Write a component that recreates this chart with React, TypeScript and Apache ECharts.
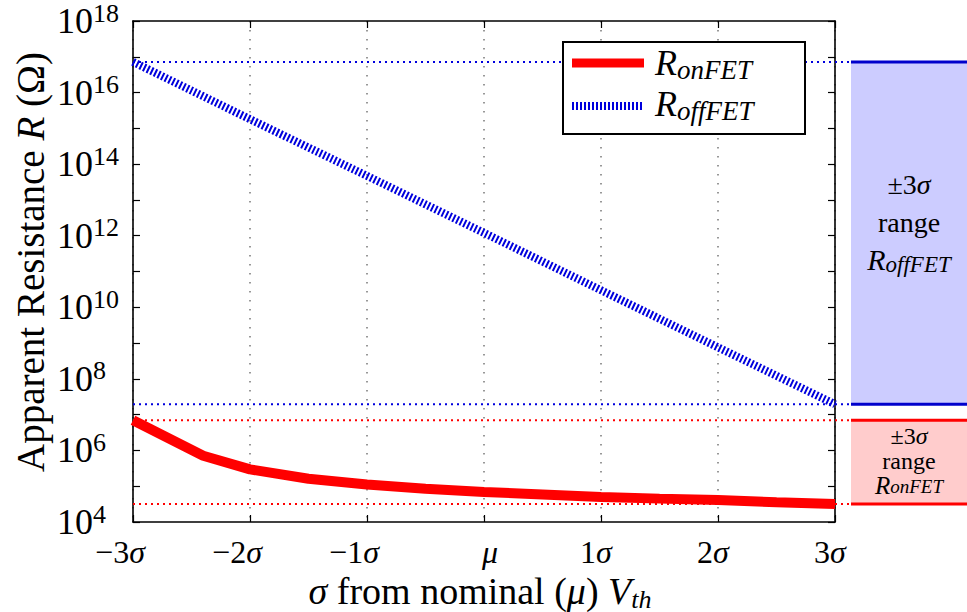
import React, { useEffect, useRef } from "react";
import * as echarts from "echarts";

// ---- data ----
const xTickValues = [-3, -2, -1, 0, 1, 2, 3];
const xTickNumbers = ["−3", "−2", "−1", "", "1", "2", "3"];
const yExpMin = 4;
const yExpMax = 18;

const offSigma = [-3, -2, -1, 0, 1, 2, 3];
const offValues = [7.2e16, 1.8e15, 4.7e13, 1.2e12, 3.0e10, 7.6e8, 1.95e7];

const onSigma = [-3, -2.4, -2, -1.5, -1, -0.5, 0, 0.5, 1, 1.5, 2, 2.5, 3];
const onValues = [7.0e6, 7.1e5, 2.95e5, 1.62e5, 1.12e5, 8.5e4, 6.9e4, 5.9e4, 5.0e4, 4.5e4, 4.1e4, 3.55e4, 3.2e4];

const FF = "'Liberation Serif', 'DejaVu Serif', serif";
const RED = "#ff0000";
const BLUE = "#0000dd";

export default function App() {
  const ref = useRef<HTMLDivElement>(null);
  useEffect(() => {
    if (!ref.current) return;
    const chart = echarts.init(ref.current, undefined, { renderer: "svg" });
    const axisCommon = {
      type: "value" as const,
      axisLine: { show: true, onZero: false, lineStyle: { color: "#000", width: 1.6 } },
      axisTick: { show: true, inside: true, length: 7, lineStyle: { color: "#000", width: 1.2 } },
    };
    const xs = 32;
    chart.setOption({
      animation: false,
      backgroundColor: "#fff",
      grid: { left: 133, right: 132, top: 20, bottom: 90, containLabel: false },
      xAxis: [
        {
          ...axisCommon,
          min: -3,
          max: 3,
          interval: 1,
          position: "bottom",
          splitLine: { show: true, lineStyle: { color: "#777", width: 1.5, type: [1.5, 7.5] } },
          axisLabel: {
            margin: 13,
            formatter: (v: number) => {
              const i = xTickValues.indexOf(Math.round(v));
              if (i < 0) return "";
              if (v === 0) return "{gm|μ}";
              return v < 0 ? `{n|${xTickNumbers[i]}}{gn|σ}` : `{n|${xTickNumbers[i]}}{gp|σ}`;
            },
            rich: {
              n: { fontFamily: FF, fontSize: xs, color: "#000", lineHeight: 34 },
              gn: { fontFamily: FF, fontSize: xs, fontStyle: "italic", color: "#000", lineHeight: 34, padding: [0, 26, 0, 0] },
              gp: { fontFamily: FF, fontSize: xs, fontStyle: "italic", color: "#000", lineHeight: 34, padding: [0, 10, 0, 0] },
              gm: { fontFamily: FF, fontSize: xs, fontStyle: "italic", color: "#000", lineHeight: 34, padding: [0, 0, 0, 12] },
            },
          },
        },
        {
          ...axisCommon,
          min: -3,
          max: 3,
          interval: 1,
          position: "top",
          axisLabel: { show: false },
          splitLine: { show: false },
        },
      ],
      yAxis: [
        {
          ...axisCommon,
          min: yExpMin,
          max: yExpMax,
          interval: 1,
          position: "left",
          splitLine: { show: false },
          axisLabel: {
            align: "left",
            margin: 76,
            formatter: (v: number) => (Math.round(v) % 2 === 0 ? `{b|10}{s|${Math.round(v)}}` : ""),
            rich: {
              b: { fontFamily: FF, fontSize: 36, color: "#000", lineHeight: 42 },
              s: { fontFamily: FF, fontSize: 26, color: "#000", lineHeight: 22, verticalAlign: "top" },
            },
          },
        },
        {
          ...axisCommon,
          min: yExpMin,
          max: yExpMax,
          interval: 1,
          position: "right",
          axisLabel: { show: false },
          splitLine: { show: false },
        },
      ],
      series: [
        {
          type: "line",
          name: "RonFET",
          data: onSigma.map((s, i) => [s, Math.log10(onValues[i])]),
          symbol: "none",
          lineStyle: { color: RED, width: 10 },
          z: 4,
        },
        {
          type: "line",
          name: "RoffFET",
          data: offSigma.map((s, i) => [s, Math.log10(offValues[i])]),
          symbol: "none",
          lineStyle: { color: BLUE, width: 8, type: [2, 2], cap: "butt" },
          z: 5,
        },
      ],
    });

    const px = (x: number) => chart.convertToPixel({ xAxisIndex: 0 }, x) as number;
    const py = (v: number) => chart.convertToPixel({ yAxisIndex: 0 }, Math.log10(v)) as number;
    const left = px(-3);
    const right = px(3);
    const bandX = right + 16;
    const bandR = 967;

    const offTop = py(offValues[0]);
    const offBot = py(offValues[offValues.length - 1]);
    const onTop = py(onValues[0]);
    const onBot = py(onValues[onValues.length - 1]);

    const dotted = (y: number, color: string) => ({
      type: "line",
      z: 1,
      shape: { x1: left, y1: y, x2: bandX, y2: y },
      style: { stroke: color, lineWidth: 2, lineDash: [2, 4] },
      silent: true,
    });
    const solid = (y: number, color: string) => ({
      type: "line",
      z: 3,
      shape: { x1: bandX, y1: y, x2: bandR, y2: y },
      style: { stroke: color, lineWidth: 3 },
      silent: true,
    });
    const richR = (size: number, sub: number, lh?: number, slh?: number) => ({
      R: { fontFamily: FF, fontSize: size, fontStyle: "italic", fill: "#000", lineHeight: lh ?? size + 4 },
      sub: { fontFamily: FF, fontSize: sub, fontStyle: "italic", fill: "#000", lineHeight: slh ?? sub, verticalAlign: "bottom" },
      g: { fontFamily: FF, fontSize: size, fontStyle: "italic", fill: "#000", lineHeight: lh ?? size + 4 },
      n: { fontFamily: FF, fontSize: size, fill: "#000", lineHeight: lh ?? size + 4 },
    });
    const bandText = (y: number, text: string, size: number, rich?: any) => ({
      type: "text",
      z: 4,
      x: (bandX + bandR) / 2,
      y,
      style: { text, fontFamily: FF, fontSize: size, fill: "#000", align: "center", verticalAlign: "middle", rich },
    });
    const offMid = (offTop + offBot) / 2;
    const onMid = (onTop + onBot) / 2;

    const legX = 563, legY = 42, legW = 242, legH = 92;

    chart.setOption({
      graphic: [
        dotted(offTop, BLUE),
        dotted(offBot, BLUE),
        dotted(onTop, RED),
        dotted(onBot, RED),
        { type: "rect", z: 2, shape: { x: bandX, y: offTop, width: bandR - bandX, height: offBot - offTop }, style: { fill: "#ccccff" }, silent: true },
        { type: "rect", z: 2, shape: { x: bandX, y: onTop, width: bandR - bandX, height: onBot - onTop }, style: { fill: "#ffcccc" }, silent: true },
        solid(offTop, "#0000cc"),
        solid(offBot, "#0000cc"),
        solid(onTop, RED),
        solid(onBot, RED),
        bandText(offMid - 49, "{n|±3}{g|σ}", 28, richR(28, 20)),
        bandText(offMid - 11, "range", 28),
        bandText(offMid + 26, "{R|R}{sub|offFET}", 28, richR(30, 23)),
        bandText(onMid - 26, "{n|±3}{g|σ}", 23, richR(24, 18, 22)),
        bandText(onMid - 1, "range", 24),
        bandText(onMid + 23, "{R|R}{sub|onFET}", 24, richR(25, 19, 22, 14)),
        // legend
        { type: "rect", z: 20, shape: { x: legX, y: legY, width: legW, height: legH }, style: { fill: "#fff", stroke: "#000", lineWidth: 2 } },
        { type: "line", z: 21, shape: { x1: 572, y1: 63, x2: 644, y2: 63 }, style: { stroke: RED, lineWidth: 9 } },
        { type: "line", z: 21, shape: { x1: 572, y1: 106, x2: 644, y2: 106 }, style: { stroke: BLUE, lineWidth: 8, lineDash: [2, 2] } },
        { type: "text", z: 21, x: 655, y: 63, style: { text: "{R|R}{sub|onFET}", align: "left", verticalAlign: "middle", rich: richR(36, 27) } },
        { type: "text", z: 21, x: 655, y: 104, style: { text: "{R|R}{sub|offFET}", align: "left", verticalAlign: "middle", rich: richR(36, 27) } },
        // axis titles
        {
          type: "text", z: 5, x: 480, y: 591,
          style: {
            text: "{g|σ} from nominal ({g|μ}) {g|V}{sub|th}", fontFamily: FF, fontSize: 38, fill: "#000",
            align: "center", verticalAlign: "middle", rich: richR(38, 26),
          },
        },
        {
          type: "text", z: 5, x: 30, y: 262, rotation: Math.PI / 2,
          style: {
            text: "Apparent Resistance {R|R} (Ω)", fontFamily: FF, fontSize: 39, fill: "#000",
            align: "center", verticalAlign: "middle", rich: richR(39, 26),
          },
        },
      ],
    });

    return () => chart.dispose();
  }, []);
  return <div ref={ref} style={{ position: "fixed", left: 0, top: 0, width: 967, height: 612 }} />;
}
